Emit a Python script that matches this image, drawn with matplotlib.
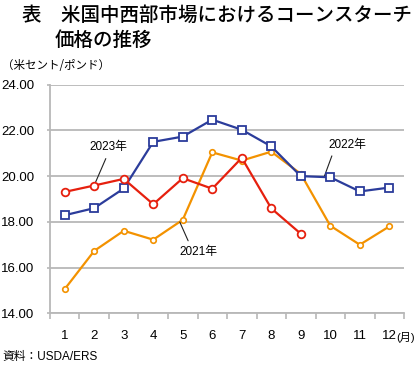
import matplotlib
matplotlib.use('Agg')
import matplotlib.pyplot as plt

plt.rcParams['font.family'] = ['Liberation Sans', 'Noto Sans CJK JP', 'DejaVu Sans']

months = [1, 2, 3, 4, 5, 6, 7, 8, 9, 10, 11, 12]
month_labels = ['1', '2', '3', '4', '5', '6', '7', '8', '9', '10', '11', '12']
price_2021 = [15.06, 16.73, 17.61, 17.22, 18.09, 21.04, 20.68, 21.07, 20.10, 17.83, 17.00, 17.80]
price_2022 = [18.29, 18.60, 19.46, 21.50, 21.73, 22.47, 22.03, 21.30, 20.00, 19.95, 19.33, 19.50]
months_2023 = [1, 2, 3, 4, 5, 6, 7, 8, 9]
price_2023 = [19.31, 19.59, 19.88, 18.77, 19.91, 19.45, 20.80, 18.59, 17.48]
yticks = [14, 16, 18, 20, 22, 24]

fig = plt.figure(figsize=(4.2, 3.66), dpi=100)
ax = fig.add_axes([0.119, 0.144, 0.843, 0.6246])

grid_c = '#b8b8b8'
for y in yticks:
    ax.axhline(y, color=grid_c, lw=1.3, zorder=0)

ax.plot(months, price_2021, color='#f39200', lw=1.6, marker='o', ms=4,
        mfc='white', mec='#f39200', mew=1.2, zorder=3)
ax.plot(months, price_2022, color='#2b3c9b', lw=1.6, marker='s', ms=5.5,
        mfc='white', mec='#2b3c9b', mew=1.3, zorder=4)
ax.plot(months_2023, price_2023, color='#e6200e', lw=1.6, marker='o', ms=5.5,
        mfc='white', mec='#e6200e', mew=1.3, zorder=5)

ax.set_xlim(0.5, 12.5)
ax.set_ylim(14, 24)
ax.set_yticks(yticks)
ax.set_yticklabels(['%.2f' % v for v in yticks], fontsize=9.5)
ax.set_xticks([m - 0.5 for m in months] + [12.5])
ax.set_xticklabels([])
ax.set_xticks(months, minor=True)
ax.set_xticklabels(month_labels, minor=True, fontsize=9.5)
ax.tick_params(axis='x', which='minor', length=0, pad=12)
ax.tick_params(axis='x', which='major', length=4, color=grid_c, width=1.2)
ax.tick_params(axis='y', length=2, color=grid_c, width=1.2, pad=9)
for s in ['top', 'right']:
    ax.spines[s].set_visible(False)
for s in ['left', 'bottom']:
    ax.spines[s].set_color(grid_c)
    ax.spines[s].set_linewidth(1.3)

# series labels
ax.annotate('2023年', xy=(2.03, 19.69), xytext=(2.47, 21.0), fontsize=8.5,
            ha='center', va='bottom',
            arrowprops=dict(arrowstyle='-', color='#222222', lw=0.8,
                            shrinkA=2, shrinkB=0, relpos=(0.5, 0)))
ax.annotate('2021年', xy=(4.9, 17.99), xytext=(5.52, 16.94), fontsize=8.5,
            ha='center', va='top',
            arrowprops=dict(arrowstyle='-', color='#222222', lw=0.8,
                            shrinkA=2, shrinkB=0, relpos=(0.3, 1)))
ax.annotate('2022年', xy=(9.79, 19.96), xytext=(10.57, 21.12), fontsize=8.5,
            ha='center', va='bottom',
            arrowprops=dict(arrowstyle='-', color='#222222', lw=0.8,
                            shrinkA=2, shrinkB=0, relpos=(0.15, 0)))

fig.text(0.052, 0.958, '表　米国中西部市場におけるコーンスターチ', fontsize=14,
         family='Noto Sans CJK JP', weight='medium', va='center', ha='left')
fig.text(0.131, 0.89, '価格の推移', fontsize=14,
         family='Noto Sans CJK JP', weight='medium', va='center', ha='left')
fig.text(0.005, 0.82, '（米セント/ポンド）', fontsize=8.3,
         family='Noto Sans CJK JP', va='center', ha='left')
fig.text(0.944, 0.077, '(月)', fontsize=8,
         family=['Liberation Sans', 'Noto Sans CJK JP'], va='center', ha='left')
fig.text(0.005, 0.025, '資料：USDA/ERS', fontsize=8.5, va='center', ha='left')

fig.savefig('out.png', dpi=100)
